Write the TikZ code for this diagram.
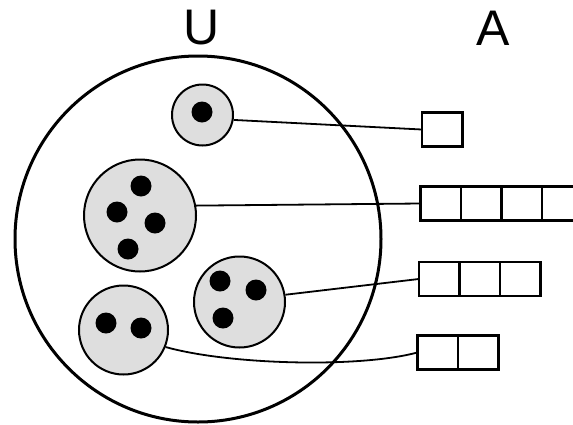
\documentclass[tikz,border=0pt]{standalone}
\usepackage{fontspec}
\setmainfont{Liberation Sans}
\definecolor{classfill}{RGB}{222,222,222}

\begin{document}
\begin{tikzpicture}[x=1pt, y=-1pt,
  set/.style={circle, draw, line width=3pt, inner sep=0pt},
  class/.style={circle, draw, line width=2pt, fill=classfill, inner sep=0pt},
  elem/.style={circle, fill=black, inner sep=0pt, minimum size=21pt},
  cell/.style={draw, line width=2.5pt, inner sep=0pt, outer sep=0pt,
    minimum width=40.5pt, minimum height=34pt},
  link/.style={line width=1.8pt},
  title/.style={font=\fontsize{50}{60}\selectfont, inner sep=0pt}]
\useasboundingbox (0,0) rectangle (573,424);
\node[title] (lu) at (202,28) {U};
\node[title] (la) at (493,28) {A};
\node[set, minimum size=366pt] (U) at (198,239) {};
% one row of cells per class
\foreach \row/\n/\x/\y in {1/1/442/129.5, 2/4/440.5/203.5, 3/3/439/279, 4/2/437.5/352.5}
  \foreach \k in {1,...,\n}
    \node[cell] (r\row-\k) at ({\x+40.5*(\k-1)},\y) {};
\node[class, minimum size=61pt] (c1) at (202.5,115) {};
\node[class, minimum size=112pt] (c2) at (140,215.5) {};
\node[class, minimum size=91pt] (c3) at (239.5,302) {};
\node[class, minimum size=89pt] (c4) at (123.5,330) {};
\draw[link] (c1.-9) -- (r1-1.west);
\draw[link] (c2.10) -- (r2-1.west);
\draw[link] (c3.9) -- (r3-1.west);
\draw[link] (c4.-22) .. controls (230,365) and (360,368) .. (r4-1.west);
\foreach \pos [count=\i] in {(202,112), (141,186),(117,212),(155,223),(128,249),
    (220,281),(256,290),(223,318), (106,323),(141,328)}
  \node[elem] (e\i) at \pos {};
\end{tikzpicture}
\end{document}
